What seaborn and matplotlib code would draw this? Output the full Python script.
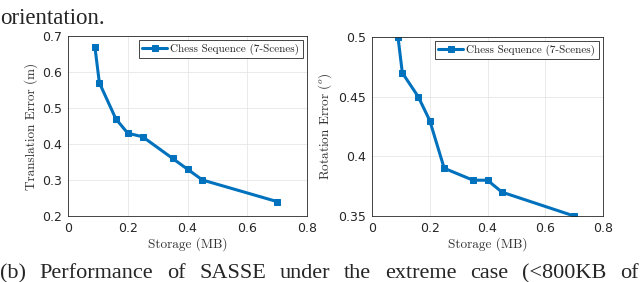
import matplotlib
matplotlib.use("Agg")
import matplotlib.pyplot as plt
import seaborn as sns
import pandas as pd

storage = [0.09, 0.105, 0.16, 0.2, 0.25, 0.35, 0.4, 0.45, 0.7]
trans_err = [0.67, 0.57, 0.47, 0.43, 0.42, 0.36, 0.33, 0.30, 0.24]
rot_err = [0.50, 0.47, 0.45, 0.43, 0.39, 0.38, 0.38, 0.37, 0.35]
series = "Chess Sequence (7-Scenes)"
top_text = "orientation."
caption = "(b) Performance of SASSE under the extreme case (<800KB of"

sns.set_theme(style="whitegrid")
plt.rcParams['mathtext.fontset'] = 'cm'
plt.rcParams['axes.formatter.use_mathtext'] = True

df = pd.DataFrame({"Storage": storage, "Trans": trans_err, "Rot": rot_err, "s": series})

fig = plt.figure(figsize=(6.4, 2.82), dpi=100)
W, H = 640, 282
ax1 = fig.add_axes([68/W, 1-216/H, (307-68)/W, (216-36)/H])
ax2 = fig.add_axes([372/W, 1-216/H, (603-372)/W, (216-37)/H])

color = "#0072BD"
serif = "cmr10"
for ax, col, ylab, ylim, yticks in [
    (ax1, "Trans", "Translation Error (m)", (0.2, 0.7), [0.2, 0.3, 0.4, 0.5, 0.6, 0.7]),
    (ax2, "Rot", "Rotation Error ($^o$)", (0.35, 0.5), [0.35, 0.4, 0.45, 0.5]),
]:
    sns.lineplot(data=df, x="Storage", y=col, hue="s", palette=[color], marker="s",
                 markersize=4.5, markeredgecolor=color, linewidth=2.2, ax=ax, sort=False)
    ax.set_xlim(0, 0.8)
    ax.set_ylim(*ylim)
    ax.set_xticks([0, 0.2, 0.4, 0.6, 0.8])
    ax.set_xticklabels(["0", "0.2", "0.4", "0.6", "0.8"])
    ax.set_yticks(yticks)
    ax.set_yticklabels([("%g" % v) for v in yticks])
    ax.tick_params(labelsize=9, colors="#262626", length=0, pad=4)
    for lab in ax.get_xticklabels() + ax.get_yticklabels():
        lab.set_family("DejaVu Sans")
    ax.set_xlabel("Storage (MB)", fontsize=9.5, family=serif, color="#333333", labelpad=2)
    ax.set_ylabel(ylab, fontsize=9.5, family=serif, color="#333333", labelpad=3)
    ax.grid(True, color="#e6e6e6", linewidth=0.6)
    for sp in ax.spines.values():
        sp.set_color("#262626")
        sp.set_linewidth(0.6)
    ax.set_facecolor("white")
    leg = ax.legend(loc="upper right", prop={"family": serif, "size": 8},
                    handlelength=2.2, borderpad=0.3, handletextpad=0.3,
                    fancybox=False, framealpha=1, edgecolor="#262626",
                    borderaxespad=0.4)
    leg.get_frame().set_linewidth(0.6)

fs = 16
fig.text(0.0, 1-24/H, top_text, family="Liberation Serif", fontsize=16.5,
         va="baseline", ha="left")

# justified caption line
words = caption.split(" ")
renderer = fig.canvas.get_renderer()
texts = [fig.text(0, 1-278/H, w, family="Liberation Serif", fontsize=fs,
                  va="baseline", ha="left") for w in words]
widths = [t.get_window_extent(renderer).width for t in texts]
gap = (W - 1 - sum(widths)) / (len(words) - 1)
x = 0.0
for t, w in zip(texts, widths):
    t.set_x(x / W)
    x += w + gap

fig.savefig("out.png", dpi=100)
